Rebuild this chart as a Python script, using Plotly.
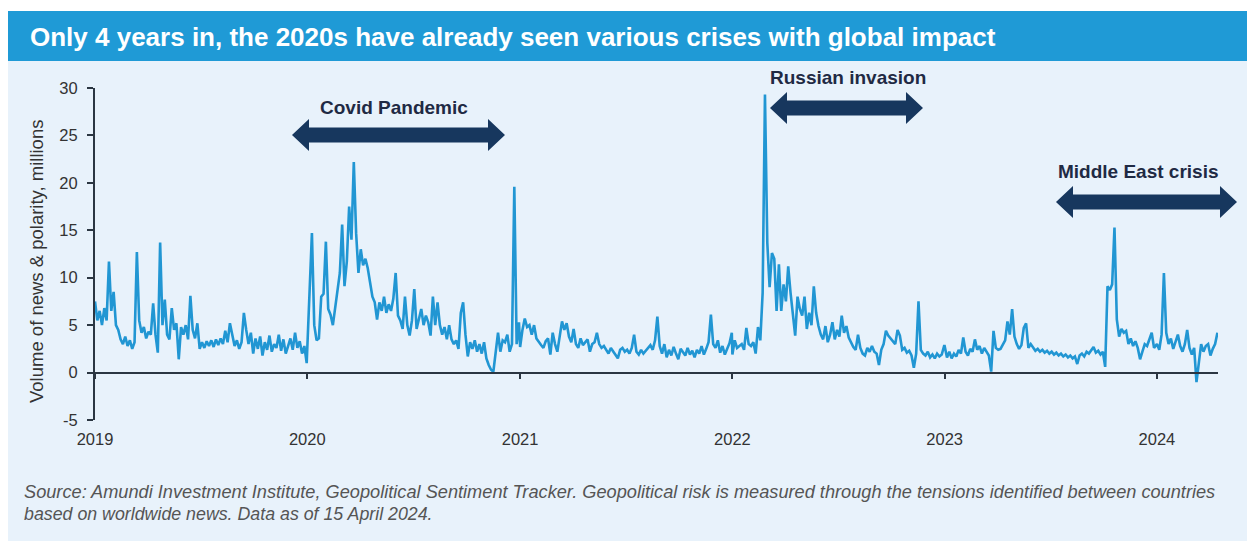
import pandas as pd
import plotly.graph_objects as go

# ---------------- data (4-day steps) ----------------
vals_2019 = [
    7.5, 5.5, 6.5, 5.0, 6.8, 5.5, 11.7, 6.5, 8.5, 5.0,
    4.5, 3.5, 3.0, 3.8, 2.8, 3.4, 2.5, 3.2, 12.7, 5.5,
    4.2, 4.8, 3.6, 4.3, 4.0, 7.3, 4.0, 2.1, 13.7, 5.0,
    7.7, 4.0, 3.5, 6.8, 4.5, 5.2, 1.4, 4.8, 4.0, 5.0,
    3.5, 8.1, 4.5, 3.6, 5.2, 2.5, 3.2, 2.6, 3.3, 2.8,
    3.4, 2.7, 3.5, 2.9, 3.6, 3.0, 4.4, 3.2, 5.2, 3.8,
    2.8, 3.4, 2.5, 3.2, 6.3, 4.5, 3.0, 4.2, 2.0, 3.6,
    2.5, 3.8, 1.8, 3.2, 2.4, 3.9, 2.2, 3.0, 2.6, 4.0,
    2.3, 3.5, 2.0, 2.8, 3.6, 2.4, 4.2, 2.6, 3.3, 2.0,
    2.8, 1.0,
]
vals_2020 = [
    2.4, 7.7, 14.7, 5.0, 3.4, 3.6, 8.0, 8.3, 13.8, 6.7,
    6.1, 5.0, 6.7, 8.5, 10.5, 15.6, 9.1, 11.7, 17.5, 14.0,
    22.2, 14.7, 10.5, 13.0, 11.3, 12.0, 11.0, 9.5, 8.0, 7.4,
    5.6, 7.4, 6.5, 8.0, 6.3, 7.2, 6.5, 7.8, 10.5, 6.0,
    5.5, 4.6, 8.0, 5.0, 3.9, 5.5, 8.8, 4.6, 5.5, 6.7,
    5.0, 6.0, 5.3, 3.9, 8.0, 5.0, 7.4, 5.0, 4.0, 4.8,
    3.5, 5.0, 3.5, 3.0, 3.4, 2.5, 6.3, 7.4, 4.0, 1.7,
    3.2, 2.5, 3.4, 2.2, 3.0, 2.0, 3.2, 1.5, 0.8, 0.3,
    0.1, 2.5, 4.2, 2.2, 3.4, 3.2, 4.0, 2.2, 3.0, 19.6,
    3.0, 5.3,
]
vals_2021 = [
    2.7, 4.5, 5.7, 4.8, 5.0, 4.0, 5.0, 3.6, 3.2, 2.9,
    2.6, 3.3, 3.6, 1.9, 4.2, 3.0, 2.2, 4.0, 5.4, 4.5,
    5.2, 3.8, 3.2, 4.6, 3.0, 2.6, 3.6, 2.9, 3.2, 3.5,
    2.2, 3.0, 3.2, 4.2, 3.0, 2.6, 2.8, 2.4, 2.0, 2.6,
    2.2, 1.9, 1.5, 2.4, 2.6, 2.2, 2.4, 2.0, 2.6, 4.0,
    2.2, 1.9, 2.4, 2.0, 2.3, 2.6, 2.9, 2.4, 3.4, 5.9,
    2.8, 2.0, 3.0, 1.6, 2.4, 1.8, 2.7, 2.0, 1.4, 2.5,
    2.2, 1.8, 2.6, 1.9, 2.3, 1.6, 2.4, 2.0, 2.8, 1.9,
    2.5, 3.2, 6.1, 3.0, 2.6, 3.4, 2.1, 2.8, 1.9, 2.6,
    3.1, 4.2,
]
vals_2022 = [
    1.9, 3.4, 2.6, 2.8, 3.0, 2.4, 4.7, 3.0, 2.8, 3.2,
    2.0, 4.8, 3.4, 8.4, 29.3, 13.7, 9.0, 12.6, 12.0, 6.5,
    11.4, 6.5, 9.3, 7.5, 11.2, 8.4, 6.3, 3.9, 8.0, 6.7,
    6.0, 8.0, 4.6, 6.3, 5.0, 9.1, 6.3, 4.9, 4.0, 3.5,
    4.9, 3.2, 4.0, 5.3, 3.5, 4.5, 3.8, 6.0, 4.2, 4.9,
    3.7, 3.2, 2.7, 2.4, 4.0, 2.6, 2.0, 1.8, 2.6, 2.2,
    2.8, 2.2, 2.0, 0.8, 2.4, 3.0, 4.4, 3.9, 3.6, 3.4,
    3.0, 4.5, 3.9, 2.4, 2.6, 2.1, 2.3, 1.8, 0.5, 2.0,
    7.5, 2.4, 2.0, 1.8, 2.2, 1.6, 1.9, 1.5, 2.0, 1.7,
    1.9, 2.8,
]
vals_2023 = [
    2.8, 1.6, 2.2, 1.5, 2.0, 1.7, 2.4, 2.0, 3.7, 2.2,
    1.8, 2.5, 2.2, 3.5, 2.4, 2.8, 2.0, 2.6, 2.2, 1.8,
    0.1, 4.4, 2.6, 2.4, 2.5, 3.0, 3.4, 5.4, 4.0, 6.7,
    3.8, 3.0, 2.5, 2.9, 4.7, 5.2, 2.6, 3.0, 2.6, 2.3,
    2.5, 2.2, 2.4, 2.1, 2.3, 2.0, 2.2, 1.9, 2.1, 1.8,
    2.0, 1.7, 1.9, 1.6, 1.8, 1.5, 1.7, 0.9, 1.8, 2.0,
    1.7, 2.2, 2.0, 2.4, 2.7, 2.1, 2.3, 1.9, 2.2, 0.6,
    9.1, 8.7, 9.3, 15.3, 5.6, 3.8, 4.6, 4.2, 4.4, 3.0,
    3.6, 2.8, 3.3, 2.6, 1.4, 2.2, 3.0, 2.8, 3.6, 4.2,
    2.6, 3.0,
]
vals_2024 = [
    3.0, 2.4, 4.0, 10.5, 4.2, 3.0, 3.6, 2.5, 3.2, 4.0,
    2.8, 2.2, 3.0, 4.5, 2.6, 1.9, 2.6, -1.0, 1.0, 3.0,
    2.2, 2.8, 3.0, 1.8, 2.5, 3.0, 4.2,
]

year_ends = {2019: "2019-12-31", 2020: "2020-12-31", 2021: "2021-12-31",
             2022: "2022-12-31", 2023: "2023-12-31", 2024: "2024-04-15"}
year_vals = {2019: vals_2019, 2020: vals_2020, 2021: vals_2021,
             2022: vals_2022, 2023: vals_2023, 2024: vals_2024}

dates, values = [], []
for yr, v in year_vals.items():
    d = pd.date_range(f"{yr}-01-01", year_ends[yr], freq="4D")
    n = min(len(d), len(v))
    dates.extend(list(d[:n]))
    values.extend(v[:n])

year_ticks = ["2019-01-01", "2020-01-01", "2021-01-01", "2022-01-01", "2023-01-01", "2024-01-01"]
year_labels = ["2019", "2020", "2021", "2022", "2023", "2024"]
y_ticks = [-5, 0, 5, 10, 15, 20, 25, 30]
y_labels = ["-5", "0", "5", "10", "15", "20", "25", "30"]

title_text = "Only 4 years in, the 2020s have already seen various crises with global impact"
y_title = "Volume of news &amp; polarity, millions"
source_1 = ("Source: Amundi Investment Institute, Geopolitical Sentiment Tracker. "
            "Geopolitical risk is measured through the tensions identified between countries")
source_2 = "based on worldwide news. Data as of 15 April 2024."

# ---------------- geometry helpers ----------------
W, H = 1247, 543
L, R, T, B = 95, 1218, 88, 420


def px(x):
    return (x - L) / (R - L)


def py(y):
    return (B - y) / (B - T)


NAVY = "#17375e"
TXT = "#333333"
LINE = "#2b3642"
FONT = "Liberation Sans"

fig = go.Figure()
fig.add_trace(go.Scatter(x=dates, y=values, mode="lines",
                         line=dict(color="#2196d3", width=2.6),
                         hoverinfo="skip", showlegend=False))

shapes = [
    dict(type="rect", xref="paper", yref="paper", x0=px(8), x1=px(1247),
         y0=py(541), y1=py(11), fillcolor="#e8f2fb", line=dict(width=0), layer="below"),
    dict(type="rect", xref="paper", yref="paper", x0=px(8), x1=px(1247),
         y0=py(61), y1=py(11), fillcolor="#1f9ad6", line=dict(width=0), layer="below"),
]


def arrow(xl, xr, c, hl=17, hh=16, bh=7.5):
    pts = [(xl, c), (xl + hl, c - hh), (xl + hl, c - bh), (xr - hl, c - bh),
           (xr - hl, c - hh), (xr, c), (xr - hl, c + hh), (xr - hl, c + bh),
           (xl + hl, c + bh), (xl + hl, c + hh)]
    p = "M " + " L ".join(f"{px(a):.5f},{py(b):.5f}" for a, b in pts) + " Z"
    return dict(type="path", xref="paper", yref="paper", path=p,
                fillcolor=NAVY, line=dict(width=0), layer="above")


shapes += [arrow(292, 505, 135), arrow(770, 923, 108), arrow(1056, 1237, 202)]


def ann(text, x, y, size, color, xanchor="center", angle=0, fam=FONT):
    return dict(text=text, x=px(x), y=py(y), xref="paper", yref="paper",
                xanchor=xanchor, yanchor="middle", showarrow=False, textangle=angle,
                font=dict(family=fam, size=size, color=color))


annotations = [
    ann("<b>" + title_text + "</b>", 28, 37, 26, "white", xanchor="left"),
    ann(y_title, 36, 262, 18.5, TXT, angle=-90),
    ann("<b>Covid Pandemic</b>", 394, 108, 19, "#1f2a44"),
    ann("<b>Russian invasion</b>", 848, 77, 19, "#1f2a44"),
    ann("<b>Middle East crisis</b>", 1138, 171, 19, "#1f2a44"),
    ann("<i>" + source_1 + "</i>", 22, 492, 18.2, "#555555", xanchor="left"),
    ann("<i>" + source_2 + "</i>", 22, 514, 17.8, "#555555", xanchor="left"),
]

fig.update_layout(
    width=W, height=H, autosize=False,
    margin=dict(l=L, r=W - R, t=T, b=H - B, pad=0),
    paper_bgcolor="white", plot_bgcolor="rgba(0,0,0,0)",
    shapes=shapes, annotations=annotations, showlegend=False,
    font=dict(family=FONT, color=TXT),
    xaxis=dict(type="date", range=["2019-01-01", "2024-04-15"],
               tickvals=year_ticks, ticktext=year_labels,
               anchor="free", position=5 / 35,
               showline=True, linecolor=LINE, linewidth=2,
               ticks="outside", ticklen=5, tickwidth=2, tickcolor=LINE,
               ticklabelstandoff=47, tickfont=dict(size=16.5, color=TXT),
               showgrid=False, zeroline=False),
    yaxis=dict(range=[-5, 30], tickvals=y_ticks, ticktext=y_labels,
               showline=True, linecolor=LINE, linewidth=2,
               ticks="outside", ticklen=6, tickwidth=2, tickcolor=LINE,
               ticklabelstandoff=6, tickfont=dict(size=16.5, color=TXT),
               showgrid=False, zeroline=False),
)

fig.write_html("out.html")
